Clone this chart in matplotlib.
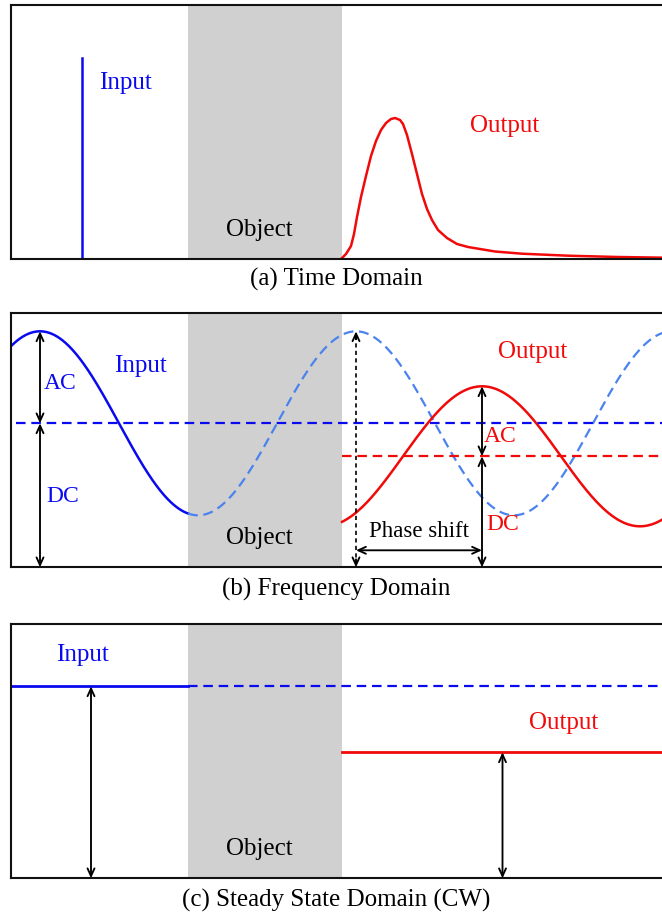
import numpy as np
import matplotlib.pyplot as plt
from matplotlib.patches import FancyArrowPatch

plt.rcParams['font.family'] = ['Liberation Serif', 'DejaVu Serif']

# ---- data (schematic units: x ~ time / position, y ~ signal height) ----
object_span = (188, 342)

# (a) time domain
impulse_t = 81.5
impulse_height = 201
pulse_t = [342, 346, 351, 354, 357, 361, 366, 371, 376, 381, 386, 391, 395,
           400, 403, 407, 412, 417, 422, 427, 432, 438, 447, 457, 468, 480,
           495, 522, 568, 618, 672]
pulse_amp = [1, 5, 13, 25, 42, 62, 83, 103, 118, 129, 136, 140, 141,
             139, 135, 124, 105, 85, 65, 50, 39, 29, 21, 15, 12, 10,
             7.5, 5.3, 3.3, 2, 1.2]

# (b) frequency domain
period = 316
input_dc, input_ac, input_peak_t = 144, 92, 40
output_dc, output_ac, output_peak_t = 111, 70, 482
phase_arrow_height = 17

# (c) steady state (CW)
cw_input_level = 192
cw_output_level = 126
cw_input_arrow_x = 91
cw_output_arrow_x = 502.5

BLUE = '#0a0aee'
LIGHT_BLUE = '#4a82ee'
RED = '#f00a0a'
GRAY = '#d0d0d0'

W, H = 662, 915
fig = plt.figure(figsize=(W / 100, H / 100), dpi=100)

left = 11
panel_h = 254
panel_tops = [5, 313.3, 624.3]
captions = ['(a) Time Domain', '(b) Frequency Domain', '(c) Steady State Domain (CW)']
caption_y = [279.5, 589.5, 900]


def make_ax(top):
    ax = fig.add_axes([left / W, 1 - (top + panel_h) / H, (W + 10 - left) / W, panel_h / H])
    ax.set_xlim(left, W + 10)
    ax.set_ylim(0, panel_h)
    ax.set_xticks([])
    ax.set_yticks([])
    for s in ax.spines.values():
        s.set_linewidth(1.5)
        s.set_color('#111111')
    ax.axvspan(*object_span, color=GRAY, lw=0, zorder=0)
    ax.text(259, 29, 'Object', ha='center', va='center', fontsize=18, color='black')
    return ax


def arrow(ax, p0, p1, style='<->'):
    ax.add_patch(FancyArrowPatch(p0, p1, arrowstyle=f'{style},head_length=0.55,head_width=0.25',
                                 mutation_scale=10, lw=1.35, color='black',
                                 shrinkA=0, shrinkB=0, zorder=5))


axes = [make_ax(t) for t in panel_tops]
for txt, y in zip(captions, caption_y):
    fig.text(336 / W, 1 - y / H, txt, ha='center', va='center', fontsize=18)

# ---- (a) ----
ax = axes[0]
ax.plot([impulse_t, impulse_t], [0, impulse_height], color=BLUE, lw=1.8)
ax.plot(pulse_t, pulse_amp, color=RED, lw=1.8, solid_joinstyle='round')
ax.text(125, panel_h - 78, 'Input', color=BLUE, ha='center', va='center', fontsize=18)
ax.text(505, panel_h - 121, 'Output', color=RED, ha='center', va='center', fontsize=18)

# ---- (b) ----
ax = axes[1]
t_in = np.linspace(left, object_span[0], 200)
t_ref = np.linspace(object_span[0], W + 10, 500)
t_out = np.linspace(object_span[1], W + 10, 400)
cos_in = lambda t: input_dc + input_ac * np.cos(2 * np.pi * (t - input_peak_t) / period)
cos_out = lambda t: output_dc + output_ac * np.cos(2 * np.pi * (t - output_peak_t) / period)

ax.plot(t_in, cos_in(t_in), color=BLUE, lw=1.8)
ax.plot(t_ref, cos_in(t_ref), color=LIGHT_BLUE, lw=1.6, dashes=(4.5, 2.5))
ax.plot(t_out, cos_out(t_out), color=RED, lw=1.8)
ax.plot([16, W + 10], [input_dc, input_dc], color=BLUE, lw=1.6, dashes=(4.3, 2.6))
ax.plot([object_span[1], W + 10], [output_dc, output_dc], color=RED, lw=1.6, dashes=(4.3, 2.6))

# input AC / DC arrows
arrow(ax, (input_peak_t, input_dc + input_ac), (input_peak_t, input_dc))
arrow(ax, (input_peak_t, input_dc), (input_peak_t, 0))
# reference peak marker (dashed)
ref_peak_t = input_peak_t + period
ax.plot([ref_peak_t, ref_peak_t], [2, input_dc + input_ac - 2], color='black', lw=1.2,
        dashes=(2.5, 2))
arrow(ax, (ref_peak_t, input_dc + input_ac - 8), (ref_peak_t, input_dc + input_ac), '->')
arrow(ax, (ref_peak_t, 8), (ref_peak_t, 0), '->')
# output AC / DC arrows
arrow(ax, (output_peak_t, output_dc + output_ac), (output_peak_t, output_dc))
arrow(ax, (output_peak_t, output_dc), (output_peak_t, 0))
# phase shift
arrow(ax, (ref_peak_t, phase_arrow_height), (output_peak_t, phase_arrow_height))

ax.text(140, panel_h - 53, 'Input', color=BLUE, ha='center', va='center', fontsize=18)
ax.text(60, panel_h - 70, 'AC', color=BLUE, ha='center', va='center', fontsize=17)
ax.text(62.5, panel_h - 183, 'DC', color=BLUE, ha='center', va='center', fontsize=17)
ax.text(533, panel_h - 38.5, 'Output', color=RED, ha='center', va='center', fontsize=18)
ax.text(500, panel_h - 123.5, 'AC', color=RED, ha='center', va='center', fontsize=17)
ax.text(503, panel_h - 211.5, 'DC', color=RED, ha='center', va='center', fontsize=17)
ax.text(419, panel_h - 218.5, 'Phase shift', color='black', ha='center', va='center', fontsize=16.5)

# ---- (c) ----
ax = axes[2]
ax.plot([left, object_span[0]], [cw_input_level] * 2, color=BLUE, lw=2)
ax.plot([object_span[0], W + 10], [cw_input_level] * 2, color=BLUE, lw=1.6, dashes=(4.3, 2.6))
ax.plot([object_span[1], W + 10], [cw_output_level] * 2, color=RED, lw=2)
arrow(ax, (cw_input_arrow_x, cw_input_level), (cw_input_arrow_x, 0))
arrow(ax, (cw_output_arrow_x, cw_output_level), (cw_output_arrow_x, 0))
ax.text(82, panel_h - 30.5, 'Input', color=BLUE, ha='center', va='center', fontsize=18)
ax.text(564, panel_h - 98.5, 'Output', color=RED, ha='center', va='center', fontsize=18)

fig.savefig('out.png', dpi=100)
